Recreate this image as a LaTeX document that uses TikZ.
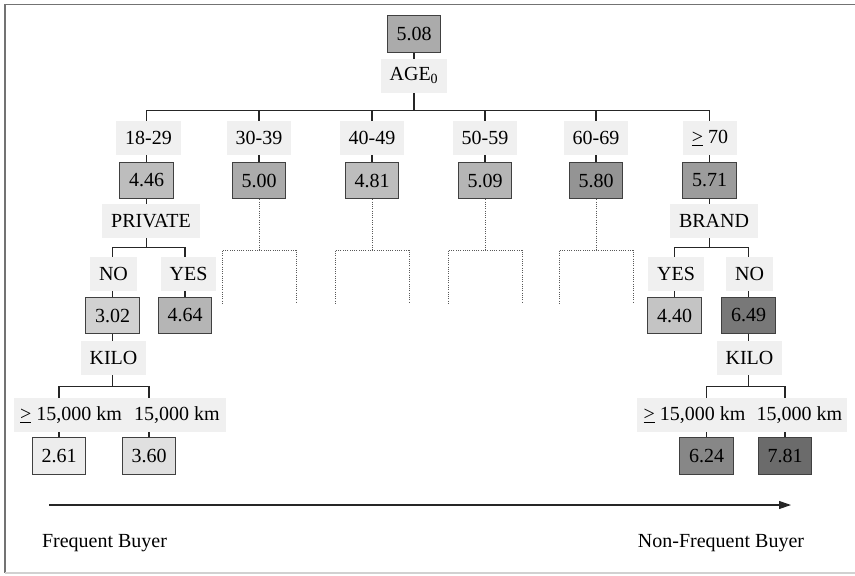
\documentclass[tikz,border=0pt]{standalone}
\usepackage{fontspec}
\setmainfont{Liberation Serif}
\usepackage{tikz}
\usetikzlibrary{arrows.meta, backgrounds}

\definecolor{lblgray}{HTML}{F0F0F0}

\begin{document}
\begin{tikzpicture}[x=0.75pt, y=-0.75pt, font=\fontsize{15}{18}\selectfont,
  val/.style={draw=black!75, line width=0.75pt, minimum width=40pt, minimum height=27.5pt, inner sep=0pt},
  lbl/.style={fill=lblgray, inner xsep=6.8pt, inner ysep=0pt, minimum height=25.5pt},
  conn/.style={draw=black!85, line width=0.8pt},
  dotline/.style={draw=black!65, densely dotted, line width=0.7pt}, ]
\useasboundingbox (0,0) rectangle (855,575);

% Frame
\draw[black!55, line width=1pt] (855,4.5) -- (5,4.5) -- (5,573);
\draw[black!18, line width=1pt] (5,573) -- (855,573);

% Root split on age
\node[val, fill=black!33] (v508) at (414,34) {5.08};
\node[lbl] (age) at (414,75.5) {AGE\textsubscript{0}};

\node[lbl] (a1829) at (148.5,138) {18-29};
\node[lbl] (a3039) at (259,138) {30-39};
\node[lbl] (a4049) at (372,138) {40-49};
\node[lbl] (a5059) at (485,138) {50-59};
\node[lbl] (a6069) at (596,138) {60-69};
\node[lbl] (a70) at (710,138) {\underline{>} 70};

\node[val, fill=black!26] (v446) at (146.5,180.5) {4.46};
\node[val, fill=black!33] (v500) at (259,180.5) {5.00};
\node[val, fill=black!26] (v481) at (372,180.5) {4.81};
\node[val, fill=black!29] (v509) at (485,180.5) {5.09};
\node[val, fill=black!42] (v580) at (596,180.5) {5.80};
\node[val, fill=black!39] (v571) at (709.5,180.5) {5.71};

% Left branch: 18-29
\node[lbl] (priv) at (151,221) {PRIVATE};
\node[lbl] (privno) at (113.5,273.5) {NO};
\node[lbl] (privyes) at (188.5,273.5) {YES};
\node[val, fill=black!18] (v302) at (112.5,315.5) {3.02};
\node[val, fill=black!29] (v464) at (185,315.5) {4.64};
\node[lbl] (kiloL) at (113.5,357.5) {KILO};
\node[lbl, inner xsep=3pt, minimum width=85.5pt] (kmL1) at (71,415) {\underline{>} 15,000 km};
\node[lbl, inner xsep=3pt, minimum width=73.5pt] (kmL2) at (177,415) {15,000 km};
\node[val, fill=black!7] (v261) at (59,456) {2.61};
\node[val, fill=black!12] (v360) at (149,456) {3.60};

% Right branch: >= 70
\node[lbl] (brand) at (714,221) {BRAND};
\node[lbl] (brandyes) at (676,273.5) {YES};
\node[lbl] (brandno) at (749.5,273.5) {NO};
\node[val, fill=black!23] (v440) at (674.5,315.5) {4.40};
\node[val, fill=black!53] (v649) at (748.5,315.5) {6.49};
\node[lbl] (kiloR) at (749.5,357.5) {KILO};
\node[lbl, inner xsep=3pt, minimum width=86.25pt] (kmR1) at (694.5,415) {\underline{>} 15,000 km};
\node[lbl, inner xsep=3pt, minimum width=71.25pt] (kmR2) at (799.5,415) {15,000 km};
\node[val, fill=black!47] (v624) at (706.5,456) {6.24};
\node[val, fill=black!58] (v781) at (785,456) {7.81};

% Tree lines behind the labels
\begin{pgfonlayer}{background}
\draw[conn] (v508.south) -- ++(0,58) coordinate (agebar) -| (v446.north);
\draw[conn] (agebar) -| (v500.north);
\draw[conn] (agebar) -| (v481.north);
\draw[conn] (agebar) -| (v509.north);
\draw[conn] (agebar) -| (v580.north);
\draw[conn] (agebar) -| (v571.north);

\draw[conn] (v446.south) -- ++(0,48) coordinate (privbar) -| (v302.north);
\draw[conn] (privbar) -| (v464.north);
\draw[conn] (v302.south) -- ++(0,52.5) coordinate (kilobarL) -| (v261.north);
\draw[conn] (kilobarL) -| (v360.north);

\draw[conn] (v571.south) -- ++(0,48) coordinate (brandbar) -| (v440.north);
\draw[conn] (brandbar) -| (v649.north);
\draw[conn] (v649.south) -- ++(0,52.5) coordinate (kilobarR) -| (v624.north);
\draw[conn] (kilobarR) -| (v781.north);
\end{pgfonlayer}

% Unexpanded subtrees
\foreach \n in {v500, v481, v509, v580} {
  \draw[dotline] (\n.south) -- ++(0,51) coordinate (dotbar) -| ++(-37,53);
  \draw[dotline] (dotbar) -| ++(37,53);
}

% Buyer scale
\coordinate (arrL) at (49,505);
\coordinate (arrR) at (791,505);
\draw[-{Triangle[length=9pt, width=6pt]}, line width=0.8pt, black!85] (arrL) -- (arrR);
\node (fb) at (104.5,543) {Frequent Buyer};
\node (nfb) at (721,543) {Non-Frequent Buyer};

\end{tikzpicture}
\end{document}
